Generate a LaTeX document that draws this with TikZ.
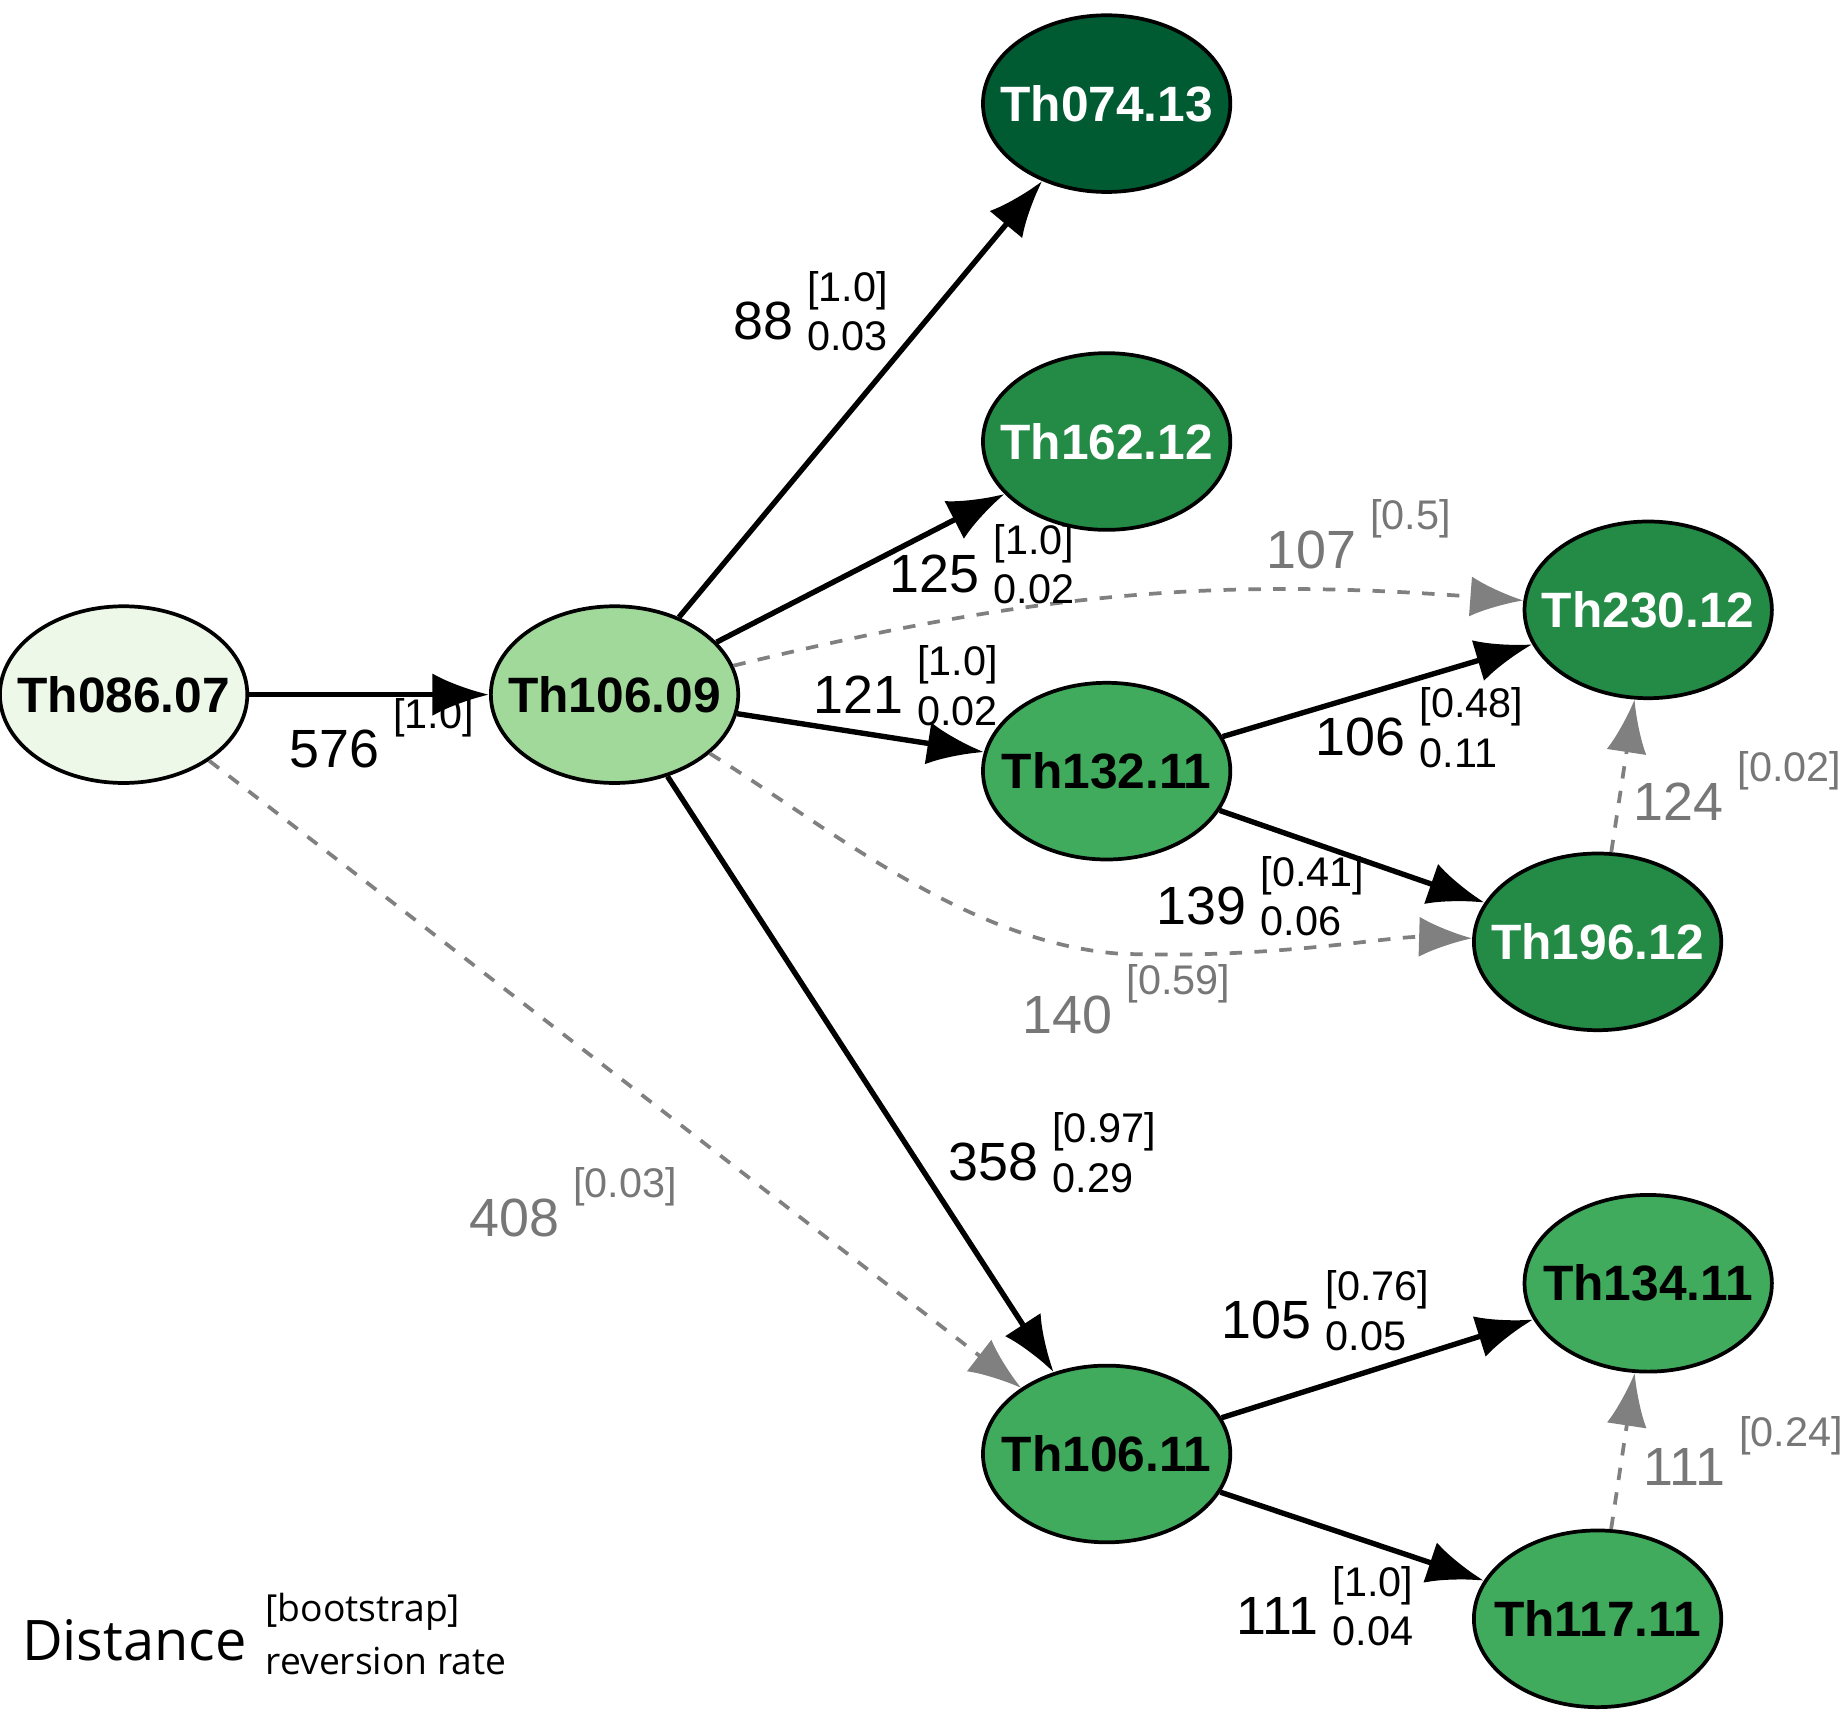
\documentclass[tikz,border=0pt]{standalone}
\usepackage{fontspec}
\setmainfont{Liberation Sans}
\newfontfamily\legendfont{Open Sans}
\usetikzlibrary{shapes.geometric,arrows.meta}
\definecolor{gA}{HTML}{EDF8E9}
\definecolor{gB}{HTML}{A1D99B}
\definecolor{gC}{HTML}{41AB5D}
\definecolor{gD}{HTML}{238B45}
\definecolor{gE}{HTML}{005A32}
\definecolor{labgray}{HTML}{777777}
\newcommand{\sublab}[2]{\raisebox{-0.1cm}{\fontsize{10pt}{12pt}\selectfont\begin{tabular}[b]{@{}l@{}}[#1]\\#2\end{tabular}}}
\newcommand{\elab}[5]{\node[lbl] at (#1,#2) {#3\hspace{0.12cm}\sublab{#4}{#5}};}
\newcommand{\glab}[4]{\node[lbl,text=labgray] at (#1,#2) {#3\hspace{0.12cm}\raisebox{0.33cm}{\fontsize{10pt}{12pt}\selectfont[#4]}};}
\begin{document}
\begin{tikzpicture}
[x=0.01cm,y=-0.01cm,
tax/.style={ellipse, draw, line width=0.9pt, minimum width=2.1cm, minimum height=1.5cm, inner xsep=-0.2cm, inner ysep=0pt, font=\fontsize{12pt}{14pt}\selectfont\bfseries},
dark/.style={tax, text=white},
tree/.style={-{Latex[length=0.48cm,width=0.36cm]}, line width=1.3pt},
rev/.style={-{Latex[length=0.45cm,width=0.34cm]}, line width=0.9pt, dashed, draw=gray, color=gray},
lbl/.style={anchor=base west, inner sep=0pt, font=\fontsize{13pt}{15pt}\selectfont}]
\useasboundingbox (0,0) rectangle (1568,1456);

\node[tax,fill=gA] (t086) at (105,590) {Th086.07};
\node[tax,fill=gB] (t10609) at (522,590) {Th106.09};
\node[dark,fill=gE] (t074) at (940,88) {Th074.13};
\node[dark,fill=gD] (t162) at (940,375) {Th162.12};
\node[dark,fill=gD] (t230) at (1400,518) {Th230.12};
\node[tax,fill=gC] (t132) at (940,655) {Th132.11};
\node[dark,fill=gD] (t196) at (1357,800) {Th196.12};
\node[tax,fill=gC] (t10611) at (940,1235) {Th106.11};
\node[tax,fill=gC] (t134) at (1400,1090) {Th134.11};
\node[tax,fill=gC] (t117) at (1357,1375) {Th117.11};

% tree edges
\draw[tree] (t086) -- (t10609);
\draw[tree] (t10609) -- (t074);
\draw[tree] (t10609) -- (t162);
\draw[tree] (t10609) -- (t132);
\draw[tree] (t10609) -- (t10611);
\draw[tree] (t132) -- (t230);
\draw[tree] (t132) -- (t196);
\draw[tree] (t10611) -- (t134);
\draw[tree] (t10611) -- (t117);

% reversions
\draw[rev] (t10609) to[bend left=9] (t230);
\draw[rev] (t10609) .. controls (700,700) and (820,800) .. (950,810) .. controls (1080,815) and (1180,795) .. (t196);
\draw[rev] (t086) -- (t10611);
\draw[rev] (t196) -- (t230);
\draw[rev] (t117) -- (t134);

\node[lbl] (l576) at (245,652) {576\hspace{0.12cm}\raisebox{0.33cm}{\fontsize{10pt}{12pt}\selectfont[1.0]}};
\elab{622}{288}{88}{1.0}{0.03}
\elab{755}{503}{125}{1.0}{0.02}
\elab{690}{606}{121}{1.0}{0.02}
\elab{1117}{642}{106}{0.48}{0.11}
\elab{982}{785}{139}{0.41}{0.06}
\elab{805}{1003}{358}{0.97}{0.29}
\elab{1037}{1137}{105}{0.76}{0.05}
\elab{1050}{1388}{111}{1.0}{0.04}
\glab{1075}{483}{107}{0.5}
\glab{868}{878}{140}{0.59}
\glab{398}{1050}{408}{0.03}
\glab{1387}{697}{124}{0.02}
\glab{1395}{1262}{111}{0.24}

% legend
\node[lbl, font=\legendfont\fontsize{13.5pt}{16pt}\selectfont] (legend) at (18,1410) {Distance};
\node[lbl, font=\legendfont\fontsize{9pt}{11pt}\selectfont] (legboot) at (225,1377) {[bootstrap]};
\node[lbl, font=\legendfont\fontsize{9pt}{11pt}\selectfont] (legrate) at (225,1422) {reversion rate};
\end{tikzpicture}
\end{document}
